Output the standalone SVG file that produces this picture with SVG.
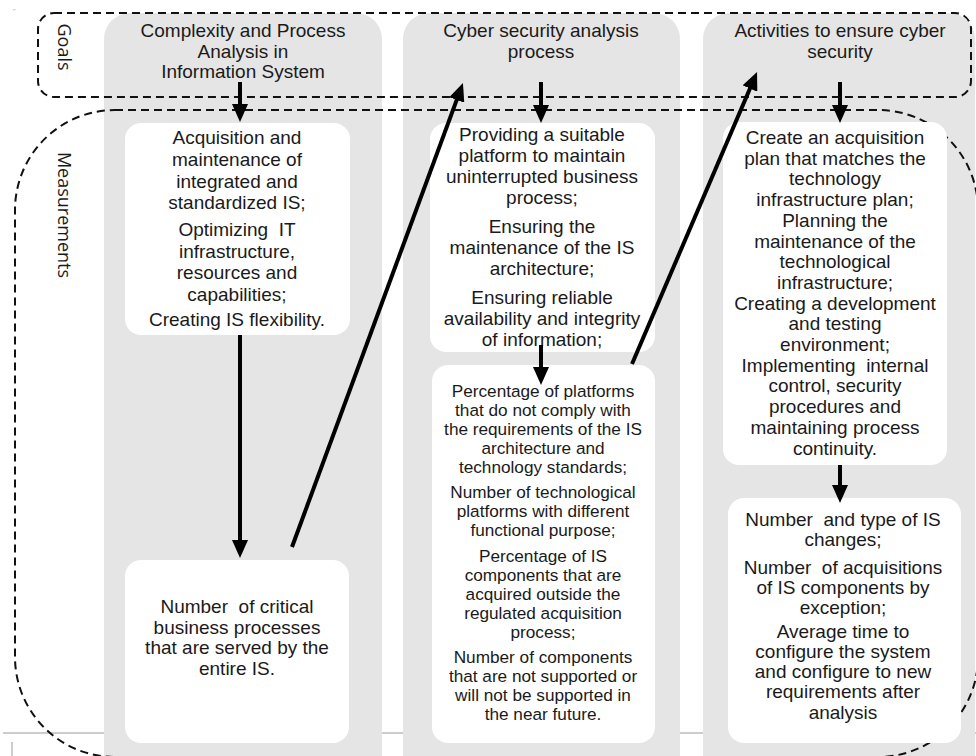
<svg xmlns="http://www.w3.org/2000/svg" width="976" height="756" viewBox="0 0 976 756">
  <defs>
    <style>
      .col{fill:#e5e5e5}
      .box{fill:#ffffff}
      .dash{fill:none;stroke:#111;stroke-width:2;stroke-dasharray:8 5}
      .t{font-family:"Liberation Sans",Arial,sans-serif;font-size:19px;fill:#1a1a1a;text-anchor:middle}
      .s{font-size:17.2px}
      .lab{font-family:"Open Sans","Noto Sans",sans-serif;font-size:18px;fill:#1a1a1a;text-anchor:middle}
      .arr{stroke:#000;stroke-width:4;fill:none;marker-end:url(#ah)}
      .thin{stroke:#9a9a9a;stroke-width:1;fill:none}
    </style>
    <marker id="ah" markerUnits="userSpaceOnUse" markerWidth="18" markerHeight="16" viewBox="0 0 18 16" refX="8" refY="8" orient="auto">
      <path d="M0,0 L18,8 L0,16 z" fill="#000"/>
    </marker>
  </defs>

  <rect width="976" height="756" fill="#ffffff"/>

  <!-- page rule and edge marks -->
  <line class="thin" x1="3" y1="733" x2="976" y2="733"/>
  <line class="thin" x1="12" y1="742" x2="12" y2="756"/>
  <text x="13" y="14" font-family="Liberation Sans, sans-serif" font-size="7" fill="#aaa">"</text>

  <!-- column backgrounds -->
  <g id="columns">
    <rect class="col" x="104" y="13" width="278" height="800" rx="26"/>
    <rect class="col" x="403" y="13" width="277" height="800" rx="26"/>
    <rect class="col" x="703" y="13" width="272" height="800" rx="26"/>
  </g>

  <!-- row frames -->
  <g id="goals">
    <rect class="dash" x="38" y="13" width="933" height="84" rx="16"/>
    <text class="lab" transform="translate(58,47) rotate(90)">Goals</text>
  </g>
  <g id="measurements">
    <rect class="dash" x="15" y="110" width="963" height="647" rx="100"/>
    <text class="lab" transform="translate(58,215) rotate(90)">Measurements</text>
  </g>

  <!-- goal headings -->
  <g id="goal1">
    <text class="t"><tspan x="243" y="37">Complexity and Process</tspan><tspan x="243" y="57.5">Analysis in</tspan><tspan x="243" y="78">Information System</tspan></text>
  </g>
  <g id="goal2">
    <text class="t"><tspan x="541" y="37">Cyber security analysis</tspan><tspan x="541" y="57.5">process</tspan></text>
  </g>
  <g id="goal3">
    <text class="t"><tspan x="840" y="37">Activities to ensure cyber</tspan><tspan x="840" y="57.5">security</tspan></text>
  </g>

  <!-- column 1 -->
  <g id="measure1a">
    <rect class="box" x="125" y="123" width="225" height="212" rx="16"/>
    <text class="t"><tspan x="237" y="144">Acquisition and</tspan><tspan x="237" y="166">maintenance of</tspan><tspan x="237" y="188">integrated and</tspan><tspan x="237" y="209">standardized IS;</tspan><tspan x="237" y="236">Optimizing&#160; IT</tspan><tspan x="237" y="258">infrastructure,</tspan><tspan x="237" y="279">resources and</tspan><tspan x="237" y="301">capabilities;</tspan><tspan x="237" y="326">Creating IS flexibility.</tspan></text>
  </g>
  <g id="measure1b">
    <rect class="box" x="125" y="560" width="224" height="183" rx="16"/>
    <text class="t"><tspan x="237" y="613">Number&#160; of critical</tspan><tspan x="237" y="633.5">business processes</tspan><tspan x="237" y="654">that are served by the</tspan><tspan x="237" y="674.5">entire IS.</tspan></text>
  </g>

  <!-- column 2 -->
  <g id="measure2a">
    <rect class="box" x="430" y="123" width="225" height="229" rx="16"/>
    <text class="t"><tspan x="542" y="141">Providing a suitable</tspan><tspan x="542" y="162">platform to maintain</tspan><tspan x="542" y="183">uninterrupted business</tspan><tspan x="542" y="204">process;</tspan><tspan x="542" y="233">Ensuring the</tspan><tspan x="542" y="254">maintenance of the IS</tspan><tspan x="542" y="275">architecture;</tspan><tspan x="542" y="304">Ensuring reliable</tspan><tspan x="542" y="325">availability and integrity</tspan><tspan x="542" y="346">of information;</tspan></text>
  </g>
  <g id="measure2b">
    <rect class="box" x="432" y="365" width="223" height="378" rx="16"/>
    <text class="t s"><tspan x="543" y="397">Percentage of platforms</tspan><tspan x="543" y="416">that do not comply with</tspan><tspan x="543" y="435">the requirements of the IS</tspan><tspan x="543" y="454">architecture and</tspan><tspan x="543" y="473">technology standards;</tspan><tspan x="543" y="498">Number of technological</tspan><tspan x="543" y="517">platforms with different</tspan><tspan x="543" y="536">functional purpose;</tspan><tspan x="543" y="562">Percentage of IS</tspan><tspan x="543" y="581">components that are</tspan><tspan x="543" y="600">acquired outside the</tspan><tspan x="543" y="619">regulated acquisition</tspan><tspan x="543" y="638">process;</tspan><tspan x="543" y="663">Number of components</tspan><tspan x="543" y="682">that are not supported or</tspan><tspan x="543" y="701">will not be supported in</tspan><tspan x="543" y="720">the near future.</tspan></text>
  </g>

  <!-- column 3 -->
  <g id="measure3a">
    <rect class="box" x="723" y="122" width="224" height="343" rx="16"/>
    <text class="t"><tspan x="835" y="144">Create an acquisition</tspan><tspan x="835" y="164.7">plan that matches the</tspan><tspan x="835" y="185.4">technology</tspan><tspan x="835" y="206.1">infrastructure plan;</tspan><tspan x="835" y="226.8">Planning the</tspan><tspan x="835" y="247.5">maintenance of the</tspan><tspan x="835" y="268.2">technological</tspan><tspan x="835" y="288.9">infrastructure;</tspan><tspan x="835" y="309.6">Creating a development</tspan><tspan x="835" y="330.3">and testing</tspan><tspan x="835" y="351">environment;</tspan><tspan x="835" y="371.7">Implementing&#160; internal</tspan><tspan x="835" y="392.4">control, security</tspan><tspan x="835" y="413.1">procedures and</tspan><tspan x="835" y="433.8">maintaining process</tspan><tspan x="835" y="454.5">continuity.</tspan></text>
  </g>
  <g id="measure3b">
    <rect class="box" x="728" y="498" width="233" height="245" rx="16"/>
    <text class="t"><tspan x="843" y="526">Number&#160; and type of IS</tspan><tspan x="843" y="546">changes;</tspan><tspan x="843" y="574">Number&#160; of acquisitions</tspan><tspan x="843" y="594">of IS components by</tspan><tspan x="843" y="614">exception;</tspan><tspan x="843" y="637.5">Average time to</tspan><tspan x="843" y="657.5">configure the system</tspan><tspan x="843" y="677.5">and configure to new</tspan><tspan x="843" y="697.5">requirements after</tspan><tspan x="843" y="718.5">analysis</tspan></text>
  </g>

  <!-- connectors -->
  <g id="connectors">
    <line class="arr" x1="240" y1="82" x2="240" y2="112"/>
    <line class="arr" x1="541" y1="82" x2="541" y2="113"/>
    <line class="arr" x1="840" y1="82" x2="840" y2="113"/>
    <line class="arr" x1="240" y1="335" x2="240" y2="548"/>
    <line class="arr" x1="541" y1="345" x2="541" y2="375"/>
    <line class="arr" x1="840" y1="465" x2="840" y2="493"/>
    <line class="arr" x1="292" y1="547" x2="459.5" y2="92.4"/>
    <line class="arr" x1="632" y1="364" x2="753.1" y2="81.2"/>
  </g>
</svg>
